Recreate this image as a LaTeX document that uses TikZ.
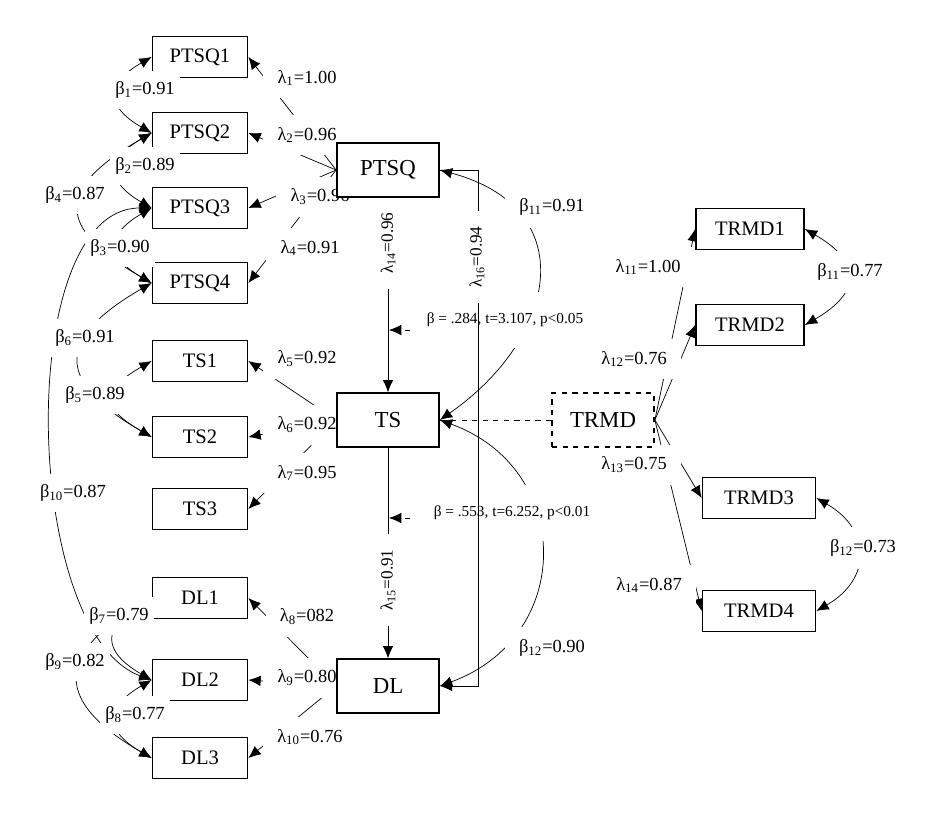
\documentclass[tikz,border=0pt]{standalone}
\usepackage{fontspec}
\setmainfont{Liberation Serif}
\usetikzlibrary{arrows.meta, backgrounds}

\begin{document}
\begin{tikzpicture}[
  x=0.02cm, y=-0.02cm, line width=1pt,
  >={Latex[length=7pt,width=6pt]},
  obs/.style={draw, fill=white, minimum width=1.9cm, minimum height=0.82cm, inner sep=0pt, font=\fontsize{11.7}{13}\selectfont},
  lat/.style={draw, fill=white, minimum width=2.04cm, minimum height=1.07cm, inner sep=0pt, font=\fontsize{13}{15}\selectfont},
  lbl/.style={fill=white, inner xsep=8pt, inner ysep=7pt, font=\fontsize{10.5}{12}\selectfont},
  blbl/.style={lbl, inner xsep=3pt, inner ysep=6pt},
  vlbl/.style={lbl, rotate=90, inner xsep=9pt, inner ysep=3pt, font=\fontsize{9.8}{11}\selectfont},
  note/.style={fill=white, inner xsep=3pt, inner ysep=12pt, font=\fontsize{8.7}{10}\selectfont},
  cov/.style={<->, bend right=60, looseness=1.8},
]
  \useasboundingbox (0,0) rectangle (942,828);

  \node[obs] (PTSQ1) at (200,57) {PTSQ1};
  \node[obs] (PTSQ2) at (200,133) {PTSQ2};
  \node[obs] (PTSQ3) at (200,208) {PTSQ3};
  \node[obs] (PTSQ4) at (200,283) {PTSQ4};
  \node[obs] (TS1) at (200,361) {TS1};
  \node[obs] (TS2) at (200,437) {TS2};
  \node[obs] (TS3) at (200,509) {TS3};
  \node[obs] (DL1) at (200,598) {DL1};
  \node[obs] (DL2) at (200,680) {DL2};
  \node[obs] (DL3) at (200,758) {DL3};

  \node[lat] (PTSQ) at (388,170) {PTSQ};
  \node[lat] (TS) at (388,420) {TS};
  \node[lat] (DL) at (388,686) {DL};
  \node[lat, dashed] (TRMD) at (603,420) {TRMD};

  \node[obs, minimum width=2.16cm] (TRMD1) at (750,229) {TRMD1};
  \node[obs, minimum width=2.16cm] (TRMD2) at (750,325) {TRMD2};
  \node[obs, minimum width=2.26cm] (TRMD3) at (759,498) {TRMD3};
  \node[obs, minimum width=2.26cm] (TRMD4) at (759,611) {TRMD4};

  \begin{scope}[on background layer]
    \foreach \t in {PTSQ1,PTSQ2,PTSQ3,PTSQ4} \draw[->] (PTSQ.west) -- (\t.east);
    \foreach \t in {TS1,TS2,TS3} \draw[->] (TS.west) -- (\t.east);
    \foreach \t in {DL1,DL2,DL3} \draw[->] (DL.west) -- (\t.east);
    \foreach \t in {TRMD1,TRMD2,TRMD3,TRMD4} \draw[->] (TRMD.east) -- (\t.west);

    \draw[->] (PTSQ) -- (TS);
    \draw[->] (TS) -- (DL);
    \draw[dashed] (TRMD) -- (TS);

    \draw[cov] (PTSQ1.west) to (PTSQ2.west);
    \draw[cov] (PTSQ2.west) to (PTSQ3.west);
    \draw[cov] (PTSQ3.west) to (PTSQ4.west);
    \draw[cov, looseness=1.9] (PTSQ2.west) to (PTSQ4.west);
    \draw[cov, looseness=1.85] (PTSQ4.west) to (TS2.west);
    \draw[cov, looseness=2] (TS1.west) to (TS2.west);
    \draw[<->] (PTSQ3.west) to[out=180, in=160, looseness=0.75] (DL2.west);
    \draw[cov] (DL1.west) to (DL2.west);
    \draw[cov] (DL2.west) to (DL3.west);
    \draw[cov, looseness=1.8] (DL1.west) to (DL3.west);

    \draw[<->] (PTSQ.east) to[out=-15, in=35, looseness=1.5] (TS.east);
    \draw[<->] (TS.east) to[out=-20, in=20, looseness=1.38] (DL.east);
    \draw[<->, bend left=60, looseness=1.75] (TRMD1.east) to (TRMD2.east);
    \draw[<->, bend left=60, looseness=1.45] (TRMD3.east) to (TRMD4.east);

    \foreach \x/\y/\s/\v in {307/78/1/1.00, 307/135/2/0.96, 320/197/3/0.96, 310/248/4/0.91,
      307/359/5/0.92, 307/425/6/0.92, 307/473/7/0.95, 307/617/8/082, 307/678/9/0.80,
      310/737/10/0.76, 648/267/11/1.00, 634/359/12/0.76, 634/465/13/0.75, 649/585/14/0.87}
      \node[lbl] (l\s) at (\x,\y) {λ\textsubscript{\s}=\v};

    \node[vlbl] (l14v) at (388,243) {λ\textsubscript{14}=0.96};
    \node[vlbl] (l15v) at (388,580) {λ\textsubscript{15}=0.91};

    \node[note] (eff1) at (505,320) {β = .284, t=3.107, p<0.05};
    \node[note] (eff2) at (512,513) {β = .553, t=6.252, p<0.01};
    \coordinate (n1) at (410,330);
    \coordinate (m1) at (389,330);
    \coordinate (n2) at (410,518);
    \coordinate (m2) at (389,518);
    \draw[dashed, ->] (n1) -- (m1);
    \draw[dashed, ->] (n2) -- (m2);

    \draw[->] (PTSQ.east) -- ++(38,0) |- (DL.east);
    \node[vlbl] (l16v) at (477,257) {λ\textsubscript{16}=0.94};
  \end{scope}

  \foreach \x/\y/\s/\v in {145/90/1/0.91, 145/166/2/0.89, 120/248/3/0.90, 75/195/4/0.87,
    95/395/5/0.89, 85/338/6/0.91, 119/616/7/0.79, 135/715/8/0.77, 75/662/9/0.82,
    73/493/10/0.87}
    \node[blbl] (b\s) at (\x,\y) {β\textsubscript{\s}=\v};
  \node[lbl] (b11) at (552,207) {β\textsubscript{11}=0.91};
  \node[lbl] (b12) at (552,648) {β\textsubscript{12}=0.90};
  \node[lbl] (b11r) at (850,272) {β\textsubscript{11}=0.77};
  \node[lbl] (b12r) at (863,548) {β\textsubscript{12}=0.73};
\end{tikzpicture}
\end{document}
